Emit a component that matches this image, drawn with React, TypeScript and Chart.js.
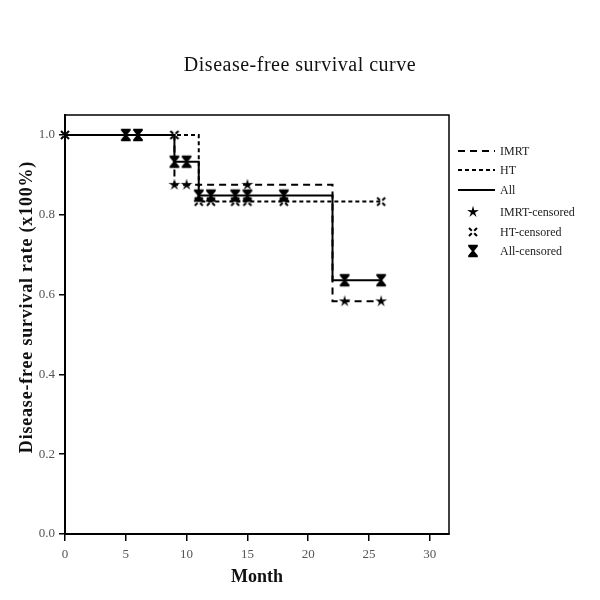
import React, { useEffect, useRef } from "react";
import { Chart, registerables } from "chart.js";

Chart.register(...registerables);

const TITLE = "Disease-free survival curve";
const X_TITLE = "Month";
const Y_TITLE = "Disease-free survival rate (x100%)";

// Kaplan-Meier step curves (month, survival)
const imrtMonths = [0, 9, 22, 26];
const imrtSurv = [1.0, 0.875, 0.583, 0.583];
const htMonths = [0, 11, 26];
const htSurv = [1.0, 0.833, 0.833];
const allMonths = [0, 9, 11, 22, 26];
const allSurv = [1.0, 0.933, 0.848, 0.636, 0.636];

// censored observations
const imrtCensMonths = [9, 10, 15, 23, 26];
const imrtCensSurv = [0.875, 0.875, 0.875, 0.583, 0.583];
const htCensMonths = [0, 9, 11, 12, 14, 15, 18, 26];
const htCensSurv = [1.0, 1.0, 0.833, 0.833, 0.833, 0.833, 0.833, 0.833];
const allCensMonths = [5, 6, 9, 10, 11, 12, 14, 15, 18, 23, 26];
const allCensSurv = [1.0, 1.0, 0.933, 0.933, 0.848, 0.848, 0.848, 0.848, 0.848, 0.636, 0.636];

const legendLabels = ["IMRT", "HT", "All", "IMRT-censored", "HT-censored", "All-censored"];

const xTicks = [0, 5, 10, 15, 20, 25, 30];
const yTicks = [0, 0.2, 0.4, 0.6, 0.8, 1.0];

const SERIF = "'Liberation Serif', 'Times New Roman', serif";

function pts(xs: number[], ys: number[]) {
  return xs.map((x, i) => ({ x, y: ys[i] }));
}

function makeMarker(draw: (ctx: CanvasRenderingContext2D) => void) {
  const c = document.createElement("canvas");
  c.width = 16;
  c.height = 16;
  const ctx = c.getContext("2d")!;
  ctx.translate(8, 8);
  ctx.fillStyle = "#000";
  ctx.strokeStyle = "#000";
  draw(ctx);
  return c;
}

const starMarker = () =>
  makeMarker((ctx) => {
    ctx.beginPath();
    for (let i = 0; i < 10; i++) {
      const r = i % 2 === 0 ? 6.2 : 2.1;
      const a = -Math.PI / 2 + (i * Math.PI) / 5;
      const px = r * Math.cos(a);
      const py = r * Math.sin(a);
      if (i === 0) ctx.moveTo(px, py);
      else ctx.lineTo(px, py);
    }
    ctx.closePath();
    ctx.fill();
  });

const xMarker = () =>
  makeMarker((ctx) => {
    ctx.lineWidth = 2;
    ctx.lineCap = "butt";
    const s = 4, g = 1.2;
    ctx.beginPath();
    ctx.moveTo(-s, -s); ctx.lineTo(-g, -g);
    ctx.moveTo(s, -s); ctx.lineTo(g, -g);
    ctx.moveTo(-s, s); ctx.lineTo(-g, g);
    ctx.moveTo(s, s); ctx.lineTo(g, g);
    ctx.stroke();
  });

const hourglassMarker = () =>
  makeMarker((ctx) => {
    ctx.beginPath();
    ctx.moveTo(-4.8, -6.2);
    ctx.lineTo(4.8, -6.2);
    ctx.lineTo(4.8, -4.4);
    ctx.lineTo(1.1, 0);
    ctx.lineTo(4.8, 4.4);
    ctx.lineTo(4.8, 6.2);
    ctx.lineTo(-4.8, 6.2);
    ctx.lineTo(-4.8, 4.4);
    ctx.lineTo(-1.1, 0);
    ctx.lineTo(-4.8, -4.4);
    ctx.closePath();
    ctx.fill();
  });

export default function App() {
  const ref = useRef<HTMLCanvasElement | null>(null);

  useEffect(() => {
    if (!ref.current) return;
    const star = starMarker();
    const xm = xMarker();
    const hg = hourglassMarker();
    const dashes = [[7, 5], [4, 3], []];
    const markers = [star, xm, hg];

    const decor = {
      id: "decor",
      afterDraw(chart: any) {
        const { ctx, chartArea } = chart;
        ctx.save();
        // frame
        ctx.strokeStyle = "#000";
        ctx.lineWidth = 1.5;
        ctx.strokeRect(chartArea.left, chartArea.top, chartArea.right - chartArea.left, chartArea.bottom - chartArea.top);
        // title
        ctx.fillStyle = "#111";
        ctx.textAlign = "center";
        ctx.textBaseline = "middle";
        ctx.font = `20px ${SERIF}`;
        (ctx as any).letterSpacing = "0.5px";
        ctx.fillText(TITLE, 300, 66);
        // axis titles
        (ctx as any).letterSpacing = "0px";
        ctx.font = `bold 18px ${SERIF}`;
        ctx.fillText(X_TITLE, (chartArea.left + chartArea.right) / 2, 577);
        ctx.save();
        ctx.translate(27, 307);
        ctx.rotate(-Math.PI / 2);
        ctx.font = `bold 18px ${SERIF}`;
        (ctx as any).letterSpacing = "0.8px";
        ctx.fillText(Y_TITLE, 0, 0);
        ctx.restore();
        (ctx as any).letterSpacing = "0px";
        // legend
        const rows = [151, 170, 190, 212, 232, 251];
        ctx.font = `12px ${SERIF}`;
        ctx.textAlign = "left";
        legendLabels.forEach((lab, i) => {
          const y = rows[i];
          if (i < 3) {
            ctx.beginPath();
            ctx.setLineDash(dashes[i]);
            ctx.lineWidth = 2;
            ctx.strokeStyle = "#000";
            ctx.moveTo(458, y);
            ctx.lineTo(495, y);
            ctx.stroke();
            ctx.setLineDash([]);
          } else {
            const m = markers[i - 3];
            ctx.drawImage(m, 473 - 8, y - 8);
          }
          ctx.fillStyle = "#222";
          ctx.fillText(lab, 500, y + 1);
        });
        ctx.restore();
      },
    };

    const lineDs = (label: string, xs: number[], ys: number[], dash: number[], order: number) => ({
      label,
      data: pts(xs, ys),
      showLine: true,
      stepped: true,
      borderColor: "#000",
      borderWidth: 2,
      borderDash: dash,
      pointRadius: 0,
      fill: false,
      order,
    });
    const censDs = (label: string, xs: number[], ys: number[], style: any, order: number) => ({
      label,
      data: pts(xs, ys),
      showLine: false,
      pointStyle: style,
      pointRadius: 6,
      borderColor: "#000",
      backgroundColor: "#000",
      clip: false,
      order,
    });

    const chart = new Chart(ref.current, {
      type: "scatter",
      data: {
        datasets: [
          censDs("All-censored", allCensMonths, allCensSurv, hg, 0),
          censDs("IMRT-censored", imrtCensMonths, imrtCensSurv, star, 1),
          censDs("HT-censored", htCensMonths, htCensSurv, xm, 2),
          lineDs("All", allMonths, allSurv, [], 3),
          lineDs("IMRT", imrtMonths, imrtSurv, [7, 5], 4),
          lineDs("HT", htMonths, htSurv, [4, 3], 5),
        ] as any,
      },
      options: {
        animation: false,
        responsive: false,
        maintainAspectRatio: false,
        devicePixelRatio: 1,
        layout: { padding: { top: 115, right: 151, left: 0, bottom: 0 } },
        plugins: { legend: { display: false }, tooltip: { enabled: false }, title: { display: false } },
        scales: {
          x: {
            type: "linear",
            min: 0,
            max: 31.58,
            afterBuildTicks: (s: any) => {
              s.ticks = xTicks.map((v) => ({ value: v }));
            },
            afterFit: (s: any) => {
              s.height = 66;
            },
            grid: { display: true, drawOnChartArea: false, drawTicks: true, tickLength: 7, color: "#000", lineWidth: 1.5 },
            border: { display: true, color: "#000", width: 2 },
            ticks: { color: "#555", font: { family: SERIF, size: 13 }, padding: 6, maxRotation: 0, callback: (v: any) => String(v) },
          },
          y: {
            type: "linear",
            min: 0,
            max: 1.05,
            afterBuildTicks: (s: any) => {
              s.ticks = yTicks.map((v) => ({ value: v }));
            },
            afterFit: (s: any) => {
              s.width = 65;
            },
            grid: { display: true, drawOnChartArea: false, drawTicks: true, tickLength: 6, color: "#000", lineWidth: 1.5 },
            border: { display: true, color: "#000", width: 2 },
            ticks: { color: "#555", font: { family: SERIF, size: 13 }, padding: 4, callback: (v: any) => Number(v).toFixed(1) },
          },
        },
      },
      plugins: [decor],
    } as any);
    return () => chart.destroy();
  }, []);

  return (
    <div style={{ position: "absolute", left: 0, top: 0, width: 600, height: 600, background: "#fff" }}>
      <canvas ref={ref} width={600} height={600} style={{ width: 600, height: 600 }} />
    </div>
  );
}
